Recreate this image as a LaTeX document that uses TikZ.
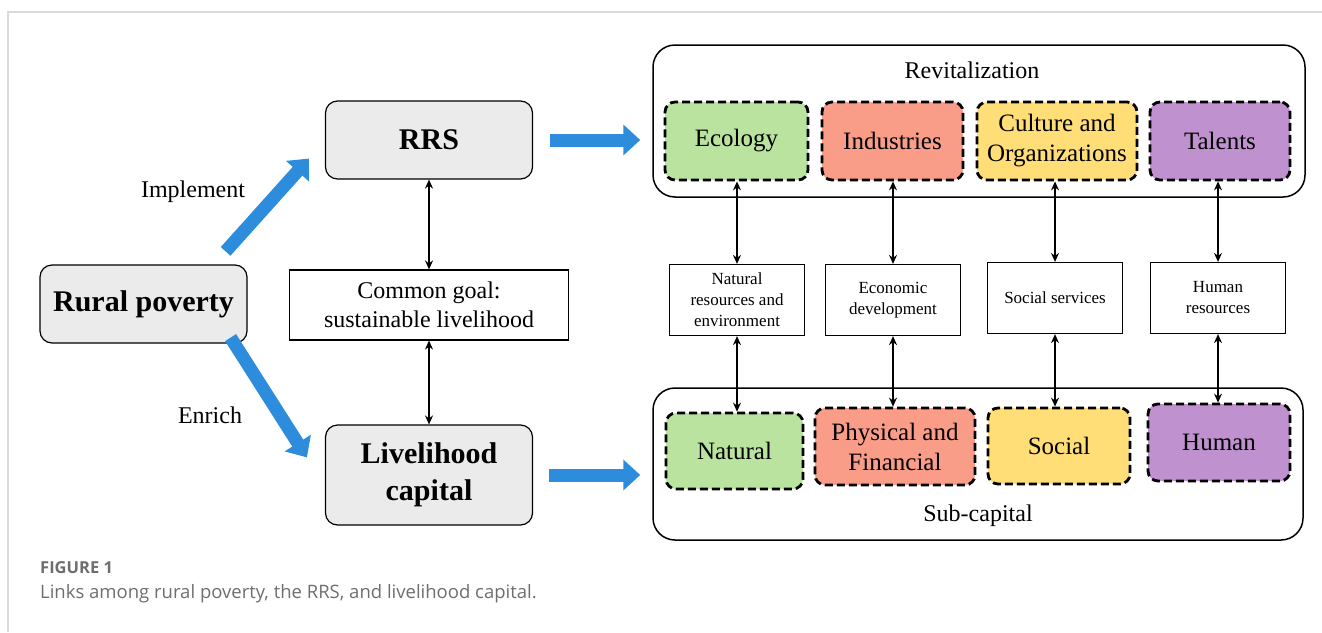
\documentclass[tikz,border=0pt]{standalone}
\usepackage{fontspec}
\setmainfont{Liberation Serif}
\newfontfamily\capfont{Open Sans}
\usetikzlibrary{arrows.meta,calc}
\definecolor{boxgray}{RGB}{235,235,235}
\definecolor{ecogreen}{RGB}{185,227,158}
\definecolor{indred}{RGB}{249,157,137}
\definecolor{culyellow}{RGB}{255,221,119}
\definecolor{talpurple}{RGB}{191,146,207}
\definecolor{arrowblue}{RGB}{46,140,220}
\definecolor{framegray}{RGB}{218,218,218}
\definecolor{capgray}{RGB}{110,110,110}

\begin{document}
\begin{tikzpicture}[x=1pt, y=-1pt,
    mainbox/.style={rectangle, rounded corners=12pt, draw, line width=1.2pt, fill=boxgray, align=center, minimum width=207pt, font=\bfseries\fontsize{30}{37}\selectfont},
    goalbox/.style={rectangle, draw, line width=1.2pt, align=center, font=\fontsize{24}{29}\selectfont},
    groupbox/.style={rectangle, rounded corners=22pt, draw, line width=1.5pt},
    dimbox/.style={rectangle, rounded corners=10pt, draw, line width=2.8pt, dash pattern=on 8pt off 4pt, align=center, minimum height=78pt, font=\fontsize{25}{30}\selectfont},
    linkbox/.style={rectangle, draw, line width=1.2pt, align=center, inner sep=3pt, minimum width=135pt, minimum height=71pt, font=\fontsize{17}{21}\selectfont},
    bigarrow/.style={line width=13pt, arrowblue, -{Triangle[length=17pt, width=30pt]}},
    twoway/.style={{Stealth[length=9pt, width=8pt, inset=3pt]}-{Stealth[length=9pt, width=8pt, inset=3pt]}, line width=1.2pt},
    plain/.style={font=\fontsize{24}{29}\selectfont}
]
    \useasboundingbox (0,0) rectangle (1322,632) ;
    \draw[framegray, line width=1.5pt] (1322,12) -- (8,12) -- (8,632) ;

    \node[mainbox, minimum height=78pt] (rural) at (143.5,304) {Rural poverty} ;
    \node[mainbox, minimum height=78pt] (rrs) at (429,140) {RRS} ;
    \node[goalbox, minimum width=279pt, minimum height=70pt] (goal) at (429,305) {Common goal:\\sustainable livelihood} ;
    \node[mainbox, minimum height=100pt] (lc) at (429,475) {Livelihood\\capital} ;

    \node[plain] (implement) at (193,192) {Implement} ;
    \node[plain] (enrich) at (210,415) {Enrich} ;

    \node[groupbox, minimum width=652pt, minimum height=152pt] (revital) at (979,121) {} ;
    \node[plain] (revital_title) at (972,70) {Revitalization} ;
    \node[groupbox, minimum width=650pt, minimum height=152pt] (subcap) at (978,464) {} ;
    \node[plain] (subcap_title) at (978,516) {Sub-capital} ;

    \node[dimbox, fill=ecogreen, minimum width=143pt] (ecology) at (736.5,141) {Ecology} ;
    \node[dimbox, fill=indred, minimum width=141pt] (industries) at (892.5,141) {Industries} ;
    \node[dimbox, fill=culyellow, minimum width=160pt] (culture) at (1057,141) {Culture and\\Organizations} ;
    \node[dimbox, fill=talpurple, minimum width=140pt] (talents) at (1220,141) {Talents} ;

    \node[linkbox] (natres) at (737,300) {Natural\\resources and\\environment} ;
    \node[linkbox] (econ) at (893,300) {Economic\\development} ;
    \node[linkbox] (socserv) at (1055,298) {Social services} ;
    \node[linkbox] (humres) at (1218,298) {Human\\resources} ;

    \node[dimbox, fill=ecogreen, minimum width=137pt, minimum height=76pt] (natural) at (734.5,451) {Natural} ;
    \node[dimbox, fill=indred, minimum width=160pt, minimum height=77pt] (physical) at (895,446.5) {Physical and\\Financial} ;
    \node[dimbox, fill=culyellow, minimum width=142pt, minimum height=76pt] (social) at (1059,446) {Social} ;
    \node[dimbox, fill=talpurple, minimum width=142pt, minimum height=77pt] (human) at (1219,442.5) {Human} ;

    \coordinate (impl_tail) at ($(rural.north east)+(-22,-13)$) ;
    \coordinate (impl_head) at ($(rrs.south west)+(-16,-21)$) ;
    \coordinate (enrich_tail) at ($(rural.south east)+(-17,-6)$) ;
    \coordinate (enrich_head) at ($(lc.north west)+(-18,33)$) ;

    \draw[bigarrow] (impl_tail) -- (impl_head) ;
    \draw[bigarrow] (enrich_tail) -- (enrich_head) ;
    \draw[bigarrow, shorten <=17pt, shorten >=12pt] (rrs.east) -- (rrs.east -| revital.west) ;
    \draw[bigarrow, shorten <=16pt, shorten >=12pt] (lc.east) -- (lc.east -| subcap.west) ;

    \draw[twoway] (rrs.south) -- (goal.north) ;
    \draw[twoway] (goal.south) -- (lc.north) ;

    \draw[twoway] (natres.north) -- (natres.north |- ecology.south) ;
    \draw[twoway] (econ.north) -- (econ.north |- industries.south) ;
    \draw[twoway] (socserv.north) -- (socserv.north |- culture.south) ;
    \draw[twoway] (humres.north) -- (humres.north |- talents.south) ;
    \draw[twoway] (natres.south) -- (natres.south |- natural.north) ;
    \draw[twoway] (econ.south) -- (econ.south |- physical.north) ;
    \draw[twoway] (socserv.south) -- (socserv.south |- social.north) ;
    \draw[twoway] (humres.south) -- (humres.south |- human.north) ;

    \node[anchor=base west, inner sep=0pt, text=capgray, font=\capfont\bfseries\fontsize{16.5}{19}\selectfont] (fig_label) at (40,573) {FIGURE 1} ;
    \node[anchor=base west, inner sep=0pt, text=capgray, font=\capfont\fontsize{18.5}{22}\selectfont] (fig_caption) at (40,598) {Links among rural poverty, the RRS, and livelihood capital.} ;
\end{tikzpicture}
\end{document}
